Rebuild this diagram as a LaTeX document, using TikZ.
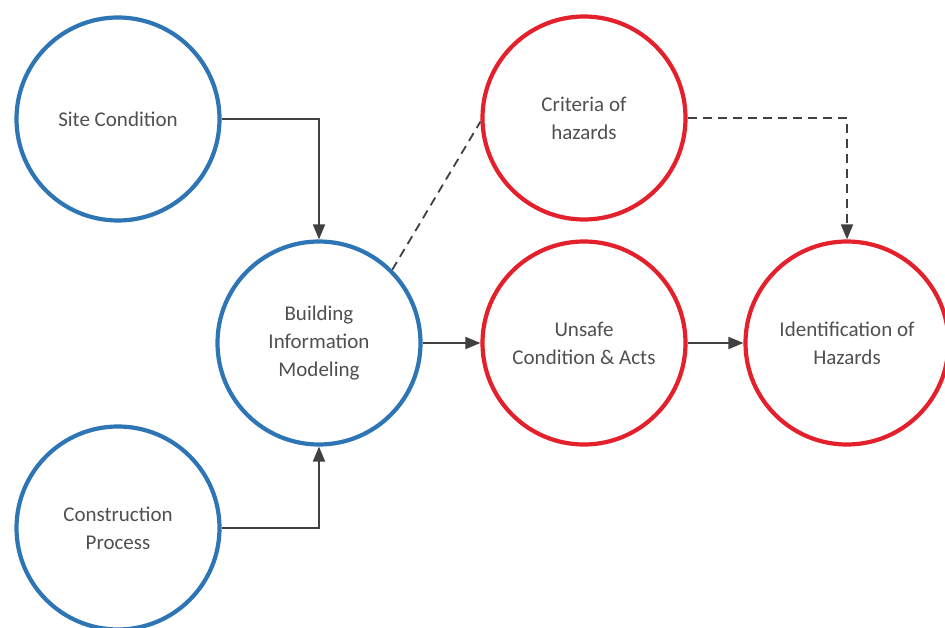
\documentclass[tikz,border=0pt]{standalone}
\usepackage{fontspec}
\setmainfont{Carlito}
\usetikzlibrary{arrows.meta}
\definecolor{cblue}{HTML}{2E75B6}
\definecolor{cred}{HTML}{E3202B}
\definecolor{ctext}{HTML}{505050}
\definecolor{cline}{HTML}{404040}
\begin{document}
\begin{tikzpicture}[x=1pt,y=-1pt,
  bubble/.style={circle, draw, line width=4.2pt, minimum size=203pt, inner sep=0pt,
     align=center, text=ctext, font=\fontsize{21}{28}\selectfont},
  bluebub/.style={bubble, draw=cblue},
  redbub/.style={bubble, draw=cred},
  conn/.style={draw=cline, line width=1.8pt, -{Triangle[length=15pt,width=12pt]}},
  dconn/.style={conn, dash pattern=on 9pt off 6pt},
  dline/.style={draw=cline, line width=1.8pt, dash pattern=on 9pt off 6pt}]
\useasboundingbox (0,0) rectangle (945,628);
\fill[white] (0,0) rectangle (945,628);
\node[bluebub] (site) at (118,119) {Site Condition};
\node[bluebub] (cons) at (118,528) {Construction\\Process};
\node[bluebub] (bim) at (319,343) {Building\\Information\\Modeling};
\node[redbub] (crit) at (584,118) {Criteria of\\hazards};
\node[redbub] (unsafe) at (584,343) {Unsafe\\Condition \& Acts};
\node[redbub] (ident) at (847,343) {Identification of\\Hazards};
\draw[conn] (site.east) -| (bim.north);
\draw[conn] (cons.east) -| (bim.south);
\draw[conn] (bim.east) -- (unsafe.west);
\draw[conn] (unsafe.east) -- (ident.west);
\draw[dline] (bim.45) -- (crit.182);
\draw[dconn] (crit.east) -| (ident.north);
\end{tikzpicture}
\end{document}
